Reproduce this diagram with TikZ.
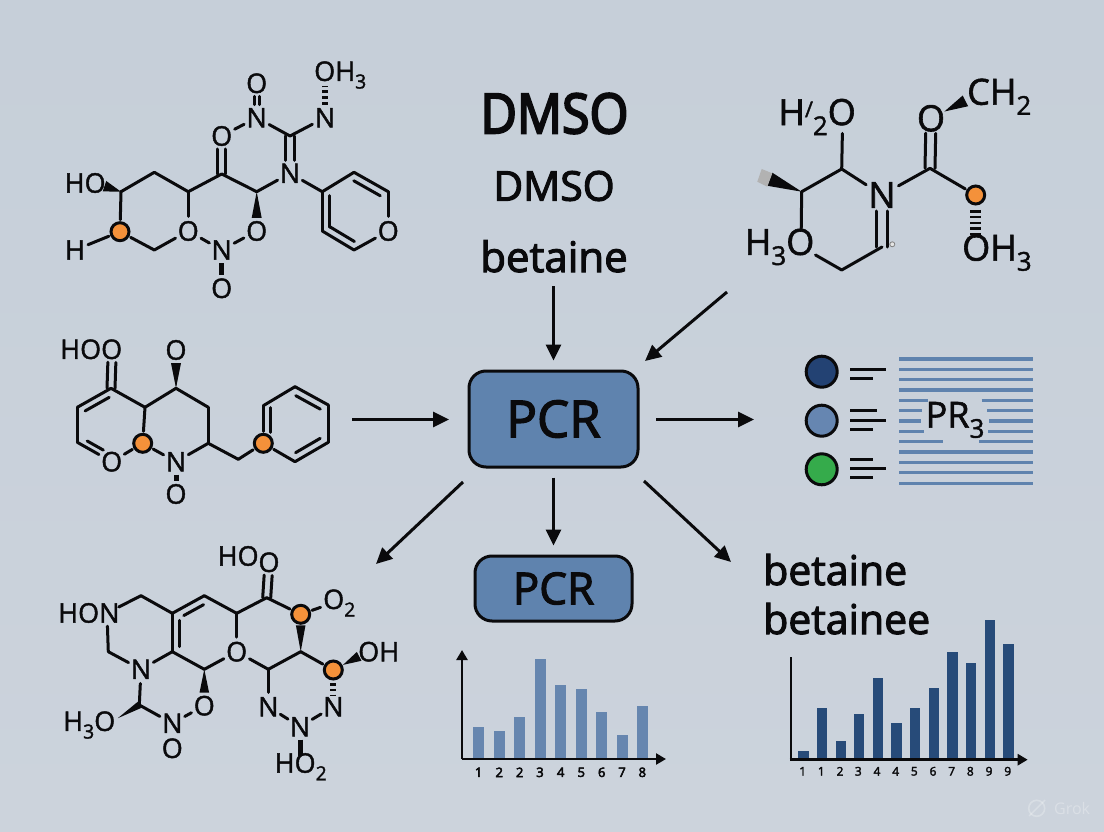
\documentclass[tikz,border=0pt]{standalone}
\usepackage{fontspec}
\setmainfont{Open Sans}
\newfontfamily\heavyf[FakeBold=4]{Open Sans}
\newfontfamily\midf[FakeBold=2.6]{Open Sans}
\newfontfamily\chemf[FakeBold=1.6]{Open Sans}
\usetikzlibrary{calc,arrows.meta,shapes.geometric}
\definecolor{bgtop}{HTML}{C6CFD9}
\definecolor{bgbot}{HTML}{CCD3DC}
\definecolor{boxblue}{HTML}{5F83AE}
\definecolor{barlight}{HTML}{6686AF}
\definecolor{bardark}{HTML}{274B79}
\definecolor{navy}{HTML}{234273}
\definecolor{midblue}{HTML}{6686B1}
\definecolor{okgreen}{HTML}{35AB4B}
\definecolor{accent}{HTML}{F4913A}
\definecolor{ink}{HTML}{0A0A0C}
\newcommand\sbs[1]{\raisebox{-0.28em}{\scalebox{0.72}{#1}}}
\tikzset{
  bond/.style={line width=3pt,color=ink,line cap=round,line join=round},
  atom/.style={circle,inner sep=0pt,minimum size=26pt,font=\chemf\fontsize{27}{27}\selectfont,text=ink},
  bigatom/.style={circle,inner sep=0pt,minimum size=33pt,font=\chemf\fontsize{36}{36}\selectfont,text=ink},
  chemlabel/.style={inner sep=0pt,font=\chemf\fontsize{27}{27}\selectfont,text=ink},
  biglabel/.style={inner sep=0pt,font=\chemf\fontsize{36}{36}\selectfont,text=ink},
  hole/.style={circle,inner sep=0pt,minimum size=26pt},
  bighole/.style={circle,inner sep=0pt,minimum size=33pt},
  orangeatom/.style={circle,draw=ink,line width=3pt,fill=accent,inner sep=0pt,minimum size=18pt,outer sep=3pt},
  flowarrow/.style={line width=3pt,color=ink,-{Triangle[length=16pt,width=15pt]}},
  pcrbox/.style={rectangle,rounded corners=17pt,draw=ink,line width=3pt,fill=boxblue,text=ink,inner sep=0pt},
  legendline/.style={line width=3pt,color=ink},
  stripe/.style={line width=3.3pt,color=boxblue},
  legenddot/.style={circle,draw=ink,line width=3pt,inner sep=0pt,minimum size=31pt},
  axisline/.style={line width=2.8pt,color=ink},
  axisarrow/.style={line width=2.8pt,color=ink,-{Triangle[length=10pt,width=11pt]}},
  tick/.style={inner sep=0pt,text=ink,font=\heavyf\fontsize{13}{13}\selectfont},
}
% helpers, all in pixel coordinates
\newcommand\atm[4]{\node[atom] (#1) at (#2,#3) {#4};}
\newcommand\batm[4]{\node[bigatom] (#1) at (#2,#3) {#4};}
\newcommand\cc[3]{\coordinate (#1) at (#2,#3);}
\newcommand\org[3]{\node[orangeatom] (#1) at (#2,#3) {};}
\newcommand\bonds[1]{\foreach \p/\q in {#1} {\draw[bond] (\p) -- (\q);}}
% wedge: narrow at #1, wide at #2
\newcommand\wdg[5]{\coordinate (wA) at ($(#1)!#3pt!(#2)$);\coordinate (wB) at ($(#2)!#4pt!(#1)$);
  \fill[ink] (wA) -- ($(wB)!#5pt!90:(wA)$) -- ($(wB)!#5pt!-90:(wA)$) -- cycle;}
% parallel line, offset #5
\newcommand\offs[5]{\coordinate (wA) at ($(#1)!#3pt!(#2)$);\coordinate (wB) at ($(#2)!#4pt!(#1)$);
  \draw[bond] ($(wA)!#5pt!90:(wB)$) -- ($(wB)!#5pt!-90:(wA)$);}
\newcommand\dbl[5]{\offs{#1}{#2}{#3}{#4}{#5}\offs{#1}{#2}{#3}{#4}{-#5}}
% hashed: dash of width #5
\newcommand\hsh[5]{\coordinate (wA) at ($(#1)!#3pt!(#2)$);\coordinate (wB) at ($(#2)!#4pt!(#1)$);
  \draw[line width=#5pt,color=ink,dash pattern=on 2.6pt off 3.2pt] (wA) -- (wB);}
% stub
\newcommand\stb[5]{\coordinate (wA) at ($(#1)!#3pt!(#2)$);\coordinate (wB) at ($(#2)!#4pt!(#1)$);
  \draw[line width=#5pt,color=ink] (wA) -- (wB);}
\begin{document}
\begin{tikzpicture}[x=1pt,y=-1pt]
\useasboundingbox (0,0) rectangle (1104,832);
\shade[top color=bgtop,bottom color=bgbot] (0,0) rectangle (1104,832);

% ---------- molecule top left
\atm{aOa}{256.7}{83.3}{O}\atm{aNa}{256.7}{117.7}{N}\atm{aOb}{221.7}{136}{O}\cc{aCa}{290}{136}
\atm{aNb}{325}{117.7}{N}
\node[chemlabel,anchor=west] (aOHl) at (314,75) {OH\sbs{3}};
\node[hole] (aOH) at (325,75) {};
\atm{aNc}{290}{173.3}{N}\cc{aCb}{221.7}{174}\cc{aCc}{256.7}{191.7}
\atm{aOc}{256.7}{231}{O}\atm{aNd}{221.7}{250}{N}\atm{aOd}{221.7}{288.3}{O}
\atm{aOe}{188.3}{231}{O}\cc{aCd}{188.3}{191.7}\cc{aCe}{154.3}{172.3}\cc{aCf}{121}{191.7}
\node[chemlabel,anchor=west] (aHOl) at (64.5,183) {HO};
\node[hole] (aHO) at (95,183) {};
\org{aOr}{120}{231.7}
\atm{aH}{75}{250}{H}\cc{aCg}{154.3}{250}
\cc{aRa}{322.3}{191.7}\cc{aRb}{354}{172.3}\cc{aRc}{388.3}{191.7}\atm{aRd}{388.3}{231}{O}\cc{aRe}{354}{250}\cc{aRf}{322.3}{231}
\bonds{aNa/aOb,aNa/aCa,aCa/aNb,aNc/aCc,aCb/aCc,aCb/aCd,aOc/aNd,aOe/aNd,aOe/aCd,aCd/aCe,aCe/aCf,aCf/aOr,aOr/aH,aOr/aCg,aCg/aOe,aNc/aRa,aRa/aRb,aRb/aRc,aRc/aRd,aRd/aRe,aRe/aRf,aRf/aRa}
\dbl{aOa}{aNa}{13}{13}{2.4}
\dbl{aCa}{aNc}{0}{13}{4.7}
\dbl{aCb}{aOb}{0}{13}{4.2}
\wdg{aCc}{aOc}{0}{13}{5}
\wdg{aCf}{aHO}{0}{10}{5.5}
\stb{aNd}{aOd}{13}{13}{5}
\hsh{aNb}{aOH}{13}{11}{6}
\offs{aRa}{aRf}{4}{4}{7.5}
\offs{aRb}{aRc}{4}{5}{-7.5}
\offs{aRf}{aRe}{4}{4}{7.5}

% ---------- molecule middle left
\node[chemlabel,anchor=west] (cHOl) at (60,349.3) {HOO};
\node[hole] (cOa) at (112.3,349.3) {};
\cc{cCa}{111}{388.3}\cc{cCb}{145}{407.3}\cc{cCc}{176}{388.3}\atm{cOb}{176}{350}{O}
\cc{cCd}{208.3}{407.3}\cc{cCe}{208.3}{443.3}\atm{cN}{176}{461.7}{N}\atm{cOc}{176}{494}{O}
\org{cOra}{142.7}{443.3}\atm{cOd}{111.7}{461.7}{O}\cc{cCf}{77.3}{442.3}\cc{cCg}{77.3}{407.3}
\cc{cCh}{238.3}{459.3}\org{cOrb}{263.3}{443.3}
\cc{cRa}{263.3}{405.7}\cc{cRb}{295}{386.7}\cc{cRc}{328.3}{405}\cc{cRd}{328.3}{442.3}\cc{cRe}{295}{461.7}
\bonds{cCa/cCb,cCb/cCc,cCc/cCd,cCd/cCe,cCe/cN,cN/cOra,cOra/cCb,cOra/cOd,cOd/cCf,cCf/cCg,cCg/cCa,cCe/cCh,cCh/cOrb,cOrb/cRa,cRa/cRb,cRb/cRc,cRc/cRd,cRd/cRe,cRe/cOrb}
\dbl{cCa}{cOa}{0}{13}{4}
\offs{cCg}{cCa}{5}{6}{-7}
\offs{cCf}{cOd}{8}{13}{6}
\wdg{cCc}{cOb}{0}{13}{5}
\stb{cN}{cOc}{13}{13}{5}
\offs{cRa}{cOrb}{2}{11}{7.5}
\offs{cRb}{cRc}{5}{5}{-7.5}
\offs{cRe}{cRd}{5}{5}{7.5}

% ---------- molecule bottom left
\node[chemlabel,anchor=west] (dHONl) at (58,613) {HON};
\node[hole] (dNa) at (107,613) {};
\cc{dCa}{141}{595.7}\cc{dCb}{172.3}{613.3}\cc{dCc}{204.3}{595.7}\cc{dCd}{236.7}{613.3}\cc{dCe}{266.7}{597.7}
\node[chemlabel,anchor=west] (dHOl) at (217.5,556) {HO};
\atm{dOa}{269}{562.3}{O}
\org{dOra}{300.7}{614.3}
\node[chemlabel,anchor=west] (dOtwol) at (323,603) {O\sbs{2}};
\node[hole] (dOb) at (333,603) {};
\cc{dCf}{300.7}{651.7}\org{dOrb}{333.3}{670}
\node[chemlabel,anchor=west] (dOHl) at (358,651.7) {OH};
\node[hole] (dOc) at (368,651.7) {};
\atm{dNb}{333.3}{706.7}{N}\atm{dNc}{300}{726.7}{N}\atm{dNd}{268.3}{706.7}{N}\cc{dCg}{268.3}{669.3}
\atm{dOd}{236.7}{651.7}{O}\cc{dCh}{204.3}{669.3}\cc{dCi}{172.3}{651.7}\atm{dNe}{141}{669.3}{N}\cc{dCj}{108.3}{651.7}
\atm{dOe}{204.3}{705.7}{O}\atm{dNf}{172.3}{723.3}{N}\atm{dOf}{172.3}{748.3}{O}\cc{dCk}{139.3}{705}
\node[chemlabel,anchor=west] (dHThl) at (63,725) {H\sbs{3}O};
\node[hole] (dOg) at (106.7,725) {};
\node[chemlabel,anchor=west] (dHOtl) at (274.5,766.7) {HO\sbs{2}};
\node[hole] (dOh) at (300,766.7) {};
\bonds{dNa/dCa,dCa/dCb,dCb/dCc,dCc/dCd,dCd/dCe,dCe/dOra,dOra/dOb,dOrb/dCf,dCf/dCg,dCg/dNd,dNd/dNc,dNc/dNb,dCg/dOd,dOd/dCh,dOd/dCd,dCh/dCi,dCi/dCb,dCi/dNe,dNe/dCj,dCj/dNa,dNe/dCk,dCk/dNf,dNf/dOe}
\dbl{dCe}{dOa}{0}{13}{4}
\offs{dCb}{dCc}{9}{5}{-7.5}
\offs{dCb}{dCi}{7}{5}{7.5}
\wdg{dCf}{dOra}{0}{11}{4.8}
\wdg{dOrb}{dOc}{11}{10}{5}
\hsh{dOrb}{dNb}{13}{11}{6}
\wdg{dCh}{dOe}{0}{13}{4.8}
\stb{dNc}{dOh}{13}{11}{5}
\wdg{dOg}{dCk}{13}{0}{3.5}

% ---------- molecule top right
\node[biglabel,anchor=east] (bHl) at (856,117) {H\raisebox{.22em}{\scalebox{.6}{/}}\sbs{2}O};
\node[bighole] (bOa) at (842.7,116.7) {};
\cc{bCa}{841.7}{169}\cc{bCb}{801.7}{191.7}\cc{bEnd}{763.3}{176.7}
\node[biglabel,anchor=east] (bHTl) at (814.5,247) {H\sbs{3}O};
\node[bighole] (bOb) at (801,246.7) {};
\cc{bCc}{841.7}{270}\cc{bCd}{882}{247}
\batm{bN}{882}{195}{N}
\cc{bCe}{930}{168.3}\batm{bOc}{931}{118.3}{O}
\node[biglabel,anchor=west] (bCHl) at (967,96.7) {CH\sbs{2}};
\coordinate (bCH) at (977,95);
\org{bOr}{975.7}{195}
\node[biglabel,anchor=west] (bOHl) at (962,252.7) {OH\sbs{3}};
\node[bighole] (bOd) at (975.7,252.7) {};
\bonds{bOa/bCa,bCa/bCb,bCa/bN,bCb/bOb,bOb/bCc,bCc/bCd,bN/bCe,bCe/bOr}
\dbl{bN}{bCd}{16}{0}{5.3}
\dbl{bCe}{bOc}{0}{15}{5}
\wdg{bCb}{bEnd}{0}{7}{7}
\wdg{bOc}{bCH}{15}{13}{6}
\fill[gray!60] (761.7,169) -- (772.3,173.3) -- (767.3,186.7) -- (757.3,181.7) -- cycle;
\hsh{bOr}{bOd}{15}{18}{11}
\node[circle,draw=gray,fill=gray!20,line width=.8pt,inner sep=0pt,minimum size=5pt] (bDot) at (892.3,244.3) {};

% ---------- centre
\node[inner sep=0pt,text=ink,font=\heavyf\fontsize{50}{50}\selectfont] (dmsoa) at (554.5,113.5) {\scalebox{1}[1.1]{DMSO}};
\node[inner sep=0pt,text=ink,font=\midf\fontsize{41}{41}\selectfont] (dmsob) at (554,186) {DMSO};
\node[inner sep=0pt,text=ink,font=\midf\fontsize{42}{42}\selectfont,anchor=base] (beta) at (554,272) {betaine};
\node[pcrbox,minimum width=169pt,minimum height=96pt,font=\midf\fontsize{51}{51}\selectfont] (pcr) at (553.5,419) {PCR};
\node[pcrbox,minimum width=157pt,minimum height=65pt,font=\midf\fontsize{44}{44}\selectfont] (pcrb) at (553.5,588.5) {PCR};
\node[inner sep=0pt,text=ink,font=\midf\fontsize{41}{41}\selectfont,anchor=base west] (betb) at (763,585) {betaine};
\node[inner sep=0pt,text=ink,font=\midf\fontsize{41}{41}\selectfont,anchor=base west] (betc) at (763,634) {betainee};

% ---------- arrows
\coordinate (arrA) at (553.5,286);
\coordinate (arrBs) at (727,292);\coordinate (arrBe) at (645,361);
\coordinate (arrCs) at (352,419.5);\coordinate (arrCe) at (449,419.5);
\coordinate (arrDs) at (656,419.5);\coordinate (arrDe) at (754,419.5);
\coordinate (arrEs) at (463,482);\coordinate (arrEe) at (376,564);
\coordinate (arrFs) at (644,481);\coordinate (arrFe) at (731,562);
\draw[flowarrow,shorten >=9pt] (arrA) -- (pcr.north -| arrA);
\draw[flowarrow] (arrBs) -- (arrBe);
\draw[flowarrow] (arrCs) -- (arrCe);
\draw[flowarrow] (arrDs) -- (arrDe);
\draw[flowarrow] (arrEs) -- (arrEe);
\draw[flowarrow,shorten <=9pt,shorten >=9pt] (pcr) -- (pcrb);
\draw[flowarrow] (arrFs) -- (arrFe);

% ---------- legend
\node[legenddot,fill=navy] (lgA) at (821.7,371.7) {};
\node[legenddot,fill=midblue] (lgB) at (821.7,420.7) {};
\node[legenddot,fill=okgreen] (lgC) at (821.7,469.3) {};
\foreach \ya/\xb in {369/886,378.3/872.7,410.7/877.3,420.3/886,429.7/872.7,459/872.7,468.7/886,477.7/872.7}
  \draw[legendline] (850,\ya) -- (\xb,\ya);
\foreach \ya in {359,369.3,379.7,390,452,462.3,472.7,483.3}
  \draw[stripe] (899,\ya) -- (1032.7,\ya);
\foreach \ya/\xl/\xr in {400.3/928/981.7,410.7/921.7/987.3,421/920.7/989,431.3/924/988.3,441.7/943.3/979}
  {\draw[stripe] (899,\ya) -- (\xl,\ya);\draw[stripe] (\xr,\ya) -- (1032.7,\ya);}
\node[inner sep=0pt,text=ink,font=\chemf\fontsize{36}{36}\selectfont] (prt) at (955,420) {PR\sbs{3}};

% ---------- left chart
\foreach \xa/\ya in {478.7/726.7,499.3/730.7,519.7/717.3,540/659,560.7/685,581.3/689.3,601.7/711.7,622/735,642.3/706}
  \fill[barlight] (\xa-5.5,\ya) rectangle (\xa+5.5,759);
\coordinate (chO) at (462,759);\coordinate (chT) at (462,650);\coordinate (chR) at (666,759);
\draw[axisarrow] (chO) -- (chT);
\draw[axisarrow] (chO) -- (chR);
\foreach \nm/\xa/\lb in {ta/478.7/1,tb/499.3/2,tc/519.7/2,td/540/3,te/560.7/4,tf/581.3/5,tg/601.7/6,th/622/7,ti/642.3/8}
  \node[tick] (\nm) at (\xa,772.3) {\lb};

% ---------- right chart
\foreach \xa/\ya in {803.3/750.7,822/707.7,840.7/741,859/714.3,877.7/678.3,896.3/723.3,915/707.7,933.7/687.7,952.3/652,971/663,989.7/620,1008.3/644.3}
  \fill[bardark] (\xa-5.2,\ya) rectangle (\xa+5.2,759.7);
\coordinate (cgO) at (791,759.7);\coordinate (cgT) at (791,656.7);\coordinate (cgR) at (1027.7,759.7);
\draw[axisline] (cgO) -- (cgT);
\draw[axisarrow] ($(cgO)+(-1.4,0)$) -- (cgR);
\foreach \nm/\xa/\lb in {ua/802.7/1,ub/821.3/1,uc/840/2,ud/858.3/3,ue/877/4,uf/895.7/4,ug/914.3/5,uh/933/6,ui/951.7/7,uj/970.3/8,uk/989/9,ul/1007.7/9}
  \node[tick,font=\midf\fontsize{12}{12}\selectfont] (\nm) at (\xa,771.3) {\lb};

% ---------- watermark
\node[circle,draw=white,draw opacity=.25,line width=1.6pt,inner sep=0pt,minimum size=16pt] (grokmark) at (1036.7,808.3) {};
\coordinate (grokA) at (1029,816);\coordinate (grokB) at (1045,800);
\draw[white,opacity=.25,line width=1.4pt] (grokA) -- (grokB);
\node[inner sep=0pt,anchor=west,text=white,text opacity=.28,font=\fontsize{16}{16}\selectfont] (grok) at (1054,808) {Grok};
\end{tikzpicture}
\end{document}
